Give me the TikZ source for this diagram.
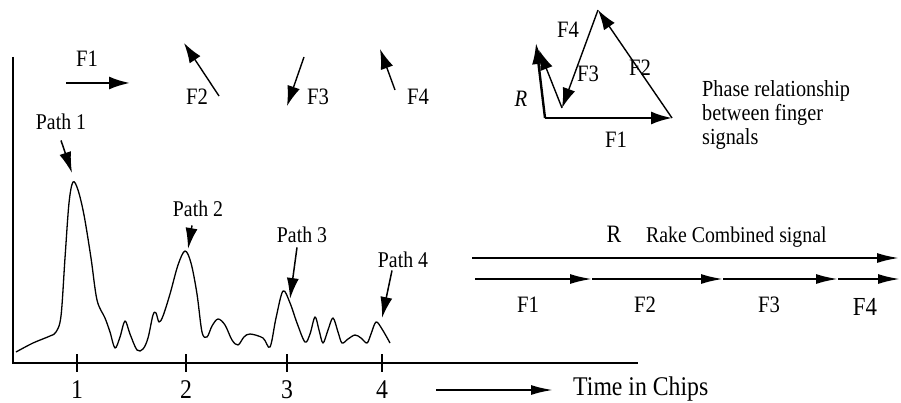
\documentclass[tikz,border=0pt]{standalone}
\usepackage{fontspec}
\setmainfont{Liberation Serif}[FakeStretch=0.88]
\usepackage{tikz}
\usetikzlibrary{arrows.meta,positioning,calc}

\begin{document}
\begin{tikzpicture}[
  x=1pt, y=-1pt,
  lbl/.style={inner sep=0pt, font=\fontsize{22.5}{24}\selectfont},
  flbl/.style={inner sep=0pt, font=\fontsize{23.5}{26}\selectfont},
  biglbl/.style={inner sep=0pt, font=\fontsize{27}{30}\selectfont},
  axln/.style={line width=2.4pt},
  curveln/.style={line width=1.3pt, line join=round},
  parr/.style={-{Latex[length=21pt,width=12pt]}, line width=1.5pt},
  tarr/.style={-{Latex[length=20pt,width=13pt]}, line width=1.4pt},
  karr/.style={-{Latex[length=21pt,width=13pt]}, line width=2.4pt},
  rarr/.style={-{Latex[length=22pt,width=10pt]}, line width=2pt}
]
\useasboundingbox (0,0) rectangle (901,403);

%% axes
\coordinate (ytop) at (13,57);
\coordinate (orig) at (13,363);
\coordinate (xend) at (638,363);
\draw[axln] (ytop) -- (orig) -- (xend);
\foreach \x/\n in {77/1,186/2,287/3,382/4}{
  \draw[line width=2pt] (\x,354) -- (\x,372);
  \node[biglbl, anchor=base] (tick\n) at (\x,398) {\n};
}

%% delay profile
\draw[curveln] plot[smooth, tension=0.55] coordinates {
  (16,352) (33,343) (50,336) (56,332) (61,316) (65,258) (69,203) (73,182)
  (78,190) (84,215) (91,258) (97,300) (105,318) (110,332) (115,348)
  (120,337) (125,321) (130,334) (137,350) (143,349) (148,338) (153,315)
  (156,313) (159,322) (163,316) (170,294) (178,265) (185,251) (191,263)
  (197,294) (202,332) (207,337) (212,326) (218,319) (225,325) (232,340)
  (238,345) (244,337) (250,334) (263,338) (270,347) (276,318) (283,291)
  (290,303) (297,323) (305,342) (310,334) (315,317) (319,330) (323,343)
  (328,330) (333,318) (338,332) (342,343) (348,339) (355,335) (361,338)
  (367,343) (371,334) (376,322) (382,329) (390,343)};

\node[lbl, anchor=base] (path1) at (61,130) {Path 1};
\node[lbl, anchor=base] (path2) at (198,217) {Path 2};
\node[lbl, anchor=base] (path3) at (302,242) {Path 3};
\node[lbl, anchor=base] (path4) at (403,267) {Path 4};
\coordinate (pk1) at (72,173);
\coordinate (pk2) at (188,249);
\coordinate (pk3) at (290,299);
\coordinate (pk4) at (382,318);
\draw[parr] ([xshift=0pt,yshift=-10pt]path1.south) -- (pk1);
\draw[parr] ([xshift=-6pt,yshift=-8pt]path2.south) -- (pk2);
\draw[parr] ([xshift=-5pt,yshift=-5pt]path3.south) -- (pk3);
\draw[parr] ([xshift=-11pt,yshift=-3pt]path4.south) -- (pk4);

%% time axis
\coordinate (tt) at (436,390);
\node[biglbl, anchor=base west] (time) at (573,395) {Time in Chips};
\draw[rarr] (tt) -- ([xshift=-20pt]time.west |- tt);

%% finger phasors
\coordinate (f1a) at (66,83);  \coordinate (f1b) at (130,83);
\coordinate (f2a) at (219,96); \coordinate (f2b) at (184,43);
\coordinate (f3a) at (304,57); \coordinate (f3b) at (287,106);
\coordinate (f4a) at (395,90); \coordinate (f4b) at (380,49);
\draw[karr] (f1a) -- (f1b);
\draw[tarr] (f2a) -- (f2b);
\draw[tarr] (f3a) -- (f3b);
\draw[tarr] (f4a) -- (f4b);
\node[flbl, anchor=base] (f1) at (87,67) {F1};
\node[flbl, anchor=base] (f2) at (197,105) {F2};
\node[flbl, anchor=base] (f3) at (318,105) {F3};
\node[flbl, anchor=base] (f4) at (418,105) {F4};

%% phase triangle
\coordinate (o) at (545,118);
\coordinate (a) at (672,118);
\coordinate (b) at (598,10);
\coordinate (c) at (562,108);
\coordinate (rt) at (536,43);
\coordinate (d) at (539,50);
\draw[karr] (o) -- (a);
\draw[tarr] (a) -- (b);
\draw[tarr] (b) -- (c);
\draw[tarr] (c) -- (d);
\draw[karr] (o) -- (rt);
\node[flbl, anchor=base] (tR) at (521,107) {\itshape R};
\node[flbl, anchor=base] (t1) at (616,148) {F1};
\node[flbl, anchor=base] (t2) at (640,76) {F2};
\node[flbl, anchor=base] (t3) at (588,82) {F3};
\node[flbl, anchor=base] (t4) at (568,38) {F4};
\node[lbl, anchor=north west, align=left, font=\fontsize{23}{24}\selectfont]
  (phase) at (702,80) {Phase relationship\\between finger\\signals};

%% rake combined signal
\node[inner sep=0pt, font=\fontsize{25}{28}\selectfont, anchor=base] (rk) at (614,243) {R};
\node[lbl, anchor=base west] (rake) at (646,243) {Rake Combined signal};
\coordinate (ra) at (472,258);
\coordinate (rb) at (899,258);
\draw[rarr] (ra) -- (rb);
\coordinate (c0) at (475,279);
\coordinate (c1) at (592,279);
\coordinate (c2) at (723,279);
\coordinate (c3) at (838,279);
\coordinate (c4) at (900,279);
\draw[rarr] (c0) -- (c1);
\draw[rarr] (c1) -- (c2);
\draw[rarr] (c2) -- (c3);
\draw[rarr] (c3) -- (c4);
\node[flbl, anchor=base] (g1) at (528,312) {F1};
\node[flbl, anchor=base] (g2) at (645,312) {F2};
\node[flbl, anchor=base] (g3) at (769,312) {F3};
\node[inner sep=0pt, font=\fontsize{26}{28}\selectfont, anchor=base] (g4) at (865,315) {F4};
\end{tikzpicture}
\end{document}
